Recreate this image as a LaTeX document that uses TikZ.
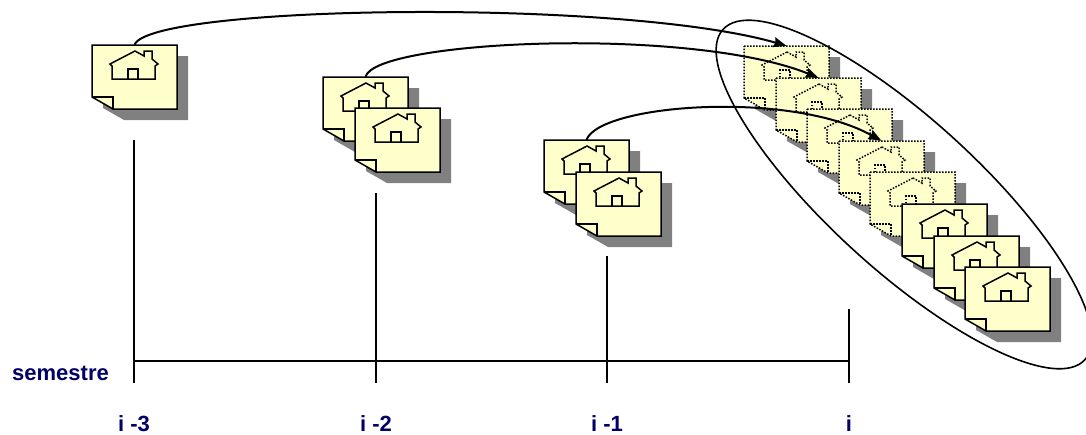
\documentclass[tikz,border=0pt]{standalone}
\usepackage{fontspec}
\setmainfont{Liberation Sans}
\usepackage{tikz}
\usetikzlibrary{arrows.meta,shapes.geometric}

\definecolor{notefill}{HTML}{FFFFCC}
\definecolor{labelblue}{HTML}{000066}

\begin{document}
\begin{tikzpicture}[
  x=1pt, y=-1pt,
  >=Stealth,
  sheet/.style={fill=notefill, line width=1.5pt, line join=miter},
  backing/.style={fill=black!50, draw=none},
  ghost/.style={dash pattern=on 1.5pt off 1.5pt},
  axis/.style={line width=1.6pt},
  link/.style={-{Stealth[length=13pt, width=10pt, inset=1.5pt]}, line width=2pt},
  ringline/.style={line width=1.6pt},
  lab/.style={text=labelblue, font=\fontsize{22}{24}\selectfont\bfseries, inner sep=0pt},
  note/.pic={
    \fill[backing] (11,11) -- (96,11) -- (96,75) -- (32,75) -- (11,63) -- cycle;
    \node[minimum width=85pt, minimum height=64pt, inner sep=0pt] (-b) at (42.5,32) {};
    \draw[sheet] (0,0) -- (85,0) -- (85,64) -- (21,64) -- (0,52) -- cycle;
    \draw[line width=1.5pt] (0,52) -- (21,52) -- (21,64);
    \draw[line width=1.5pt] (43,6) -- (52,11) -- (52,6) -- (60,6) -- (60,14) -- (66,19)
      -- (63,21) -- (63,34) -- (20,34) -- (20,21) -- (18,19) -- cycle;
    \draw[line width=1.5pt] (36,34) -- (36,24) -- (46,24) -- (46,34);
  }
]
\useasboundingbox (0,0) rectangle (1086,434);

% --- Notes of the earlier semesters ---
\pic (a1) at (92,45) {note};
\pic (b1) at (323,77) {note};
\pic (b2) at (355,108) {note};
\pic (c1) at (544,140) {note};
\pic (c2) at (576,172) {note};

% --- Stack of semester i (dotted ones are carried over) ---
\pic[ghost] (d1) at (744,46) {note};
\pic[ghost] (d2) at (776,78) {note};
\pic[ghost] (d3) at (807,109) {note};
\pic[ghost] (d4) at (839,141) {note};
\pic[ghost] (d5) at (870,172) {note};
\pic (d6) at (902,204) {note};
\pic (d7) at (934,236) {note};
\pic (d8) at (965,267) {note};

% --- Ring round the stack ---
\node[draw, ringline, ellipse, minimum width=2*245pt, minimum height=2*75pt, inner sep=0pt,
  rotate=-42.4] (ring) at (904,194.5) {};

% --- Links ---
\draw[link] (a1-b.north) .. controls (150,5) and (620,-2) .. (d1-b.north);
\draw[link] (b1-b.north) .. controls (375,40) and (690,26) .. (d2-b.north);
\draw[link] (c1-b.north) .. controls (600,104) and (790,90) .. (d4-b.north);

% --- Time axis ---
\coordinate (t1) at (134,140);
\coordinate (t2) at (376,193);
\coordinate (t3) at (607,256);
\coordinate (t4) at (849,309);
\coordinate (e1) at (134,383);
\coordinate (e2) at (376,383);
\coordinate (e3) at (607,383);
\coordinate (e4) at (849,383);
\coordinate (h1) at (134,361);
\coordinate (h4) at (849,361);

\draw[axis] (t1) -- (e1);
\draw[axis] (t2) -- (e2);
\draw[axis] (t3) -- (e3);
\draw[axis] (t4) -- (e4);
\draw[axis] (h1) -- (h4);

% --- Labels ---
\node[lab, anchor=base west] (sem) at (12,380) {semestre};
\node[lab, anchor=base] (l1) at (134,431.5) {i -3};
\node[lab, anchor=base] (l2) at (376,431.5) {i -2};
\node[lab, anchor=base] (l3) at (607,431.5) {i -1};
\node[lab, anchor=base] (l4) at (849,431.5) {i};

\end{tikzpicture}
\end{document}
